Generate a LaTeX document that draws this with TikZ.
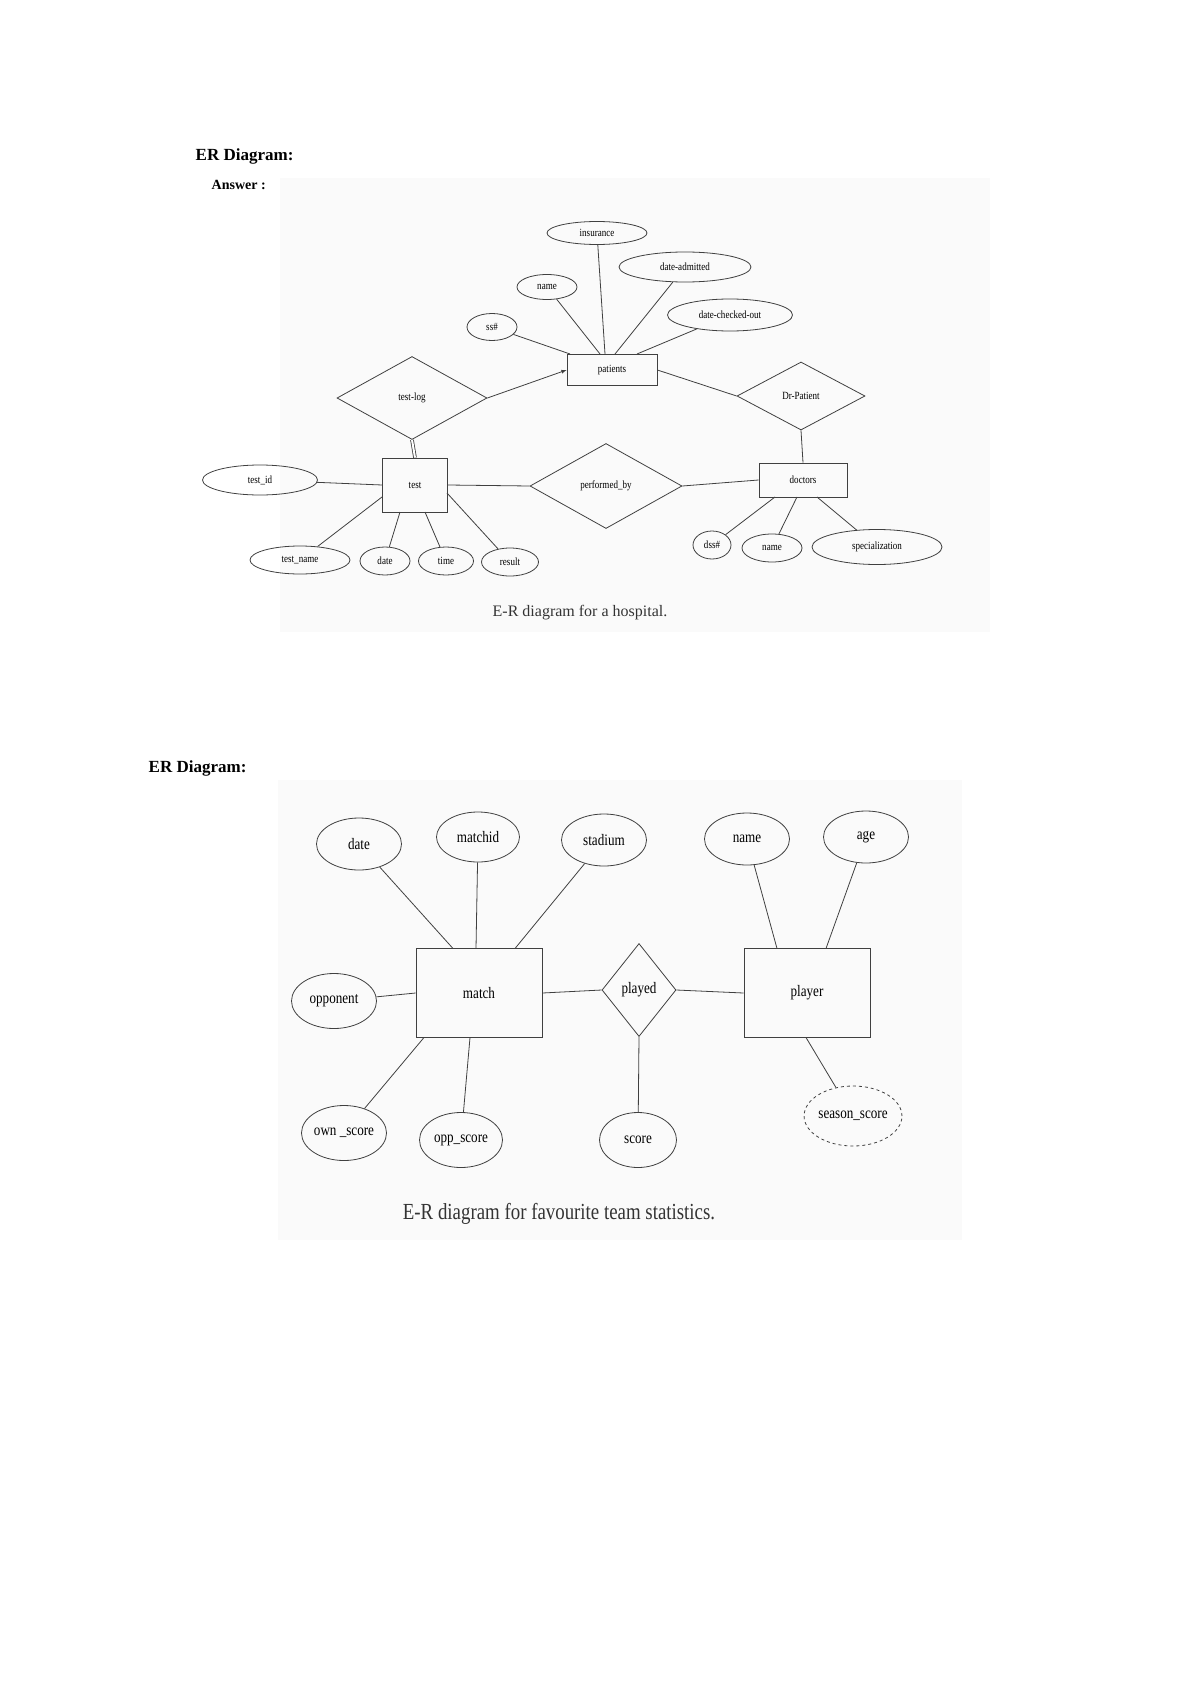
\documentclass[tikz,border=0pt]{standalone}
\usepackage{fontspec}
\setmainfont{Liberation Serif}
\usetikzlibrary{shapes.geometric,calc}
\newcommand\cnd[1]{\scalebox{0.82}[1]{#1}}
\begin{document}
\begin{tikzpicture}[x=1pt,y=-1pt,
  line width=0.8pt, draw=black!75,
  attA/.style={ellipse,draw,minimum height=#1,inner sep=0pt},
  ent/.style={rectangle,draw,inner sep=0pt},
  rel/.style={diamond,draw,inner sep=0pt},
  sa/.style={font=\fontsize{11}{13}\selectfont},
  ba/.style={font=\fontsize{16}{18}\selectfont}]
\useasboundingbox (0,0) rectangle (1200,1696);
\fill[black!2] (280,178) rectangle (990,632);
\fill[black!2] (278,780) rectangle (962,1240);
% headings
\node[anchor=west,font=\bfseries\fontsize{17}{19}\selectfont] (h1) at (192,156) {ER Diagram:};
\node[anchor=west,font=\bfseries\fontsize{14}{16}\selectfont] (h2) at (208,185) {Answer :};
\node[anchor=west,font=\bfseries\fontsize{17}{19}\selectfont] (h3) at (145,768) {ER Diagram:};
% ---------- hospital ----------
\begin{scope}[sa]
\node[ent,minimum width=90,minimum height=31] (pat) at (612,370) {\cnd{patients}};
\node[ent,minimum width=65,minimum height=54] (test) at (415,485) {\cnd{test}};
\node[ent,minimum width=88,minimum height=34] (doc) at (803,480) {\cnd{doctors}};
\node[rel,minimum width=150,minimum height=83,aspect=1.8] (tl) at (412,398) {\cnd{test-log}};
\node[rel,minimum width=128,minimum height=68,aspect=1.8] (drp) at (801,396) {\cnd{Dr-Patient}};
\node[rel,minimum width=152,minimum height=85,aspect=1.8] (pb) at (606,486) {\cnd{performed\_by}};
\node[attA=23,minimum width=100] (ins) at (597,233) {\cnd{insurance}};
\node[attA=25,minimum width=60] (pn) at (547,287) {\cnd{name}};
\node[attA=30,minimum width=132] (da) at (685,267) {\cnd{date-admitted}};
\node[attA=27,minimum width=50] (ss) at (492,327) {\cnd{ss\#}};
\node[attA=32,minimum width=125] (dco) at (730,315) {\cnd{date-checked-out}};
\node[attA=30,minimum width=115] (tid) at (260,480) {\cnd{test\_id}};
\node[attA=28,minimum width=100] (tn) at (300,560) {\cnd{test\_name}};
\node[attA=28,minimum width=50] (td) at (385,561) {\cnd{date}};
\node[attA=28,minimum width=55] (tt) at (446,561) {\cnd{time}};
\node[attA=28,minimum width=57] (tr) at (510,562) {\cnd{result}};
\node[attA=28,minimum width=38] (dss) at (712,545) {\cnd{dss\#}};
\node[attA=28,minimum width=60] (dn) at (772,548) {\cnd{name}};
\node[attA=35,minimum width=130] (sp) at (877,547) {\cnd{specialization}};
\end{scope}
\coordinate (p1) at (570,354); \coordinate (p2) at (600,354);
\coordinate (p3) at (605,354); \coordinate (p4) at (615,354);
\coordinate (p5) at (637,354);
\draw (ss) -- (p1); \draw (pn) -- (p2); \draw (ins) -- (p3);
\draw (da) -- (p4); \draw (dco) -- (p5);
\draw[-latex] (tl.east) -- (pat.west);
\draw[double,double distance=2pt] (tl.south) -- (test.north);
\draw (pat.east) -- (drp.west);
\draw (drp.south) -- (doc.north);
\draw (test.east) -- (pb.west);
\draw (pb.east) -- (doc.west);
\draw (tid) -- (test.west);
\coordinate (t1) at (382,497); \coordinate (t2) at (400,512);
\coordinate (t3) at (425,512); \coordinate (t4) at (447,493);
\draw (tn) -- (t1); \draw (td) -- (t2); \draw (tt) -- (t3); \draw (tr) -- (t4);
\coordinate (d1) at (775,497); \coordinate (d2) at (797,497); \coordinate (d3) at (817,497);
\draw (dss) -- (d1); \draw (dn) -- (d2); \draw (sp) -- (d3);
\node[font=\fontsize{16}{18}\selectfont,text=black!80] (cap1) at (580,613) {E-R diagram for a hospital.};
% ---------- team ----------
\begin{scope}[ba]
\node[ent,minimum width=126,minimum height=89] (m) at (479,993) {\cnd{match}};
\node[ent,minimum width=126,minimum height=89] (pl) at (807,993) {\cnd{player}};
\node[rel,minimum width=74,minimum height=93] (pd) at (639,990) {\cnd{played}};
\node[attA=52,minimum width=85] (bd) at (359,844) {\cnd{date}};
\node[attA=50,minimum width=83] (bm) at (478,837) {\cnd{matchid}};
\node[attA=52,minimum width=85] (bs) at (604,840) {\cnd{stadium}};
\node[attA=52,minimum width=85] (bn) at (747,839) {\cnd{name}};
\node[attA=52,minimum width=85] (ba) at (866,837) {\cnd{age}};
\node[attA=55,minimum width=85] (bo) at (334,1001) {\cnd{opponent}};
\node[attA=55,minimum width=85] (bos) at (344,1133) {\cnd{own \_score}};
\node[attA=55,minimum width=83] (bps) at (461,1140) {\cnd{opp\_score}};
\node[attA=55,minimum width=77] (bsc) at (638,1140) {\cnd{score}};
\node[attA=60,minimum width=91,dashed] (bss) at (853,1116) {\cnd{season\_score}};
\end{scope}
\coordinate (m1) at (453,948.5); \coordinate (m2) at (476,948.5); \coordinate (m3) at (515,948.5);
\coordinate (m4) at (424,1037.5); \coordinate (m5) at (470,1037.5);
\coordinate (q1) at (777,948.5); \coordinate (q2) at (826,948.5); \coordinate (q3) at (806,1037.5);
\draw (bd) -- (m1); \draw (bm) -- (m2); \draw (bs) -- (m3);
\draw (bo) -- (m.west); \draw (bos) -- (m4); \draw (bps) -- (m5);
\draw (m.east) -- (pd.west); \draw (pd.east) -- (pl.west);
\draw (pd.south) -- (bsc);
\draw (bn) -- (q1); \draw (ba) -- (q2); \draw (bss) -- (q3);
\node[font=\fontsize{23}{26}\selectfont,text=black!80] (cap2) at (559,1214) {\cnd{E-R diagram for favourite team statistics.}};
\end{tikzpicture}
\end{document}
